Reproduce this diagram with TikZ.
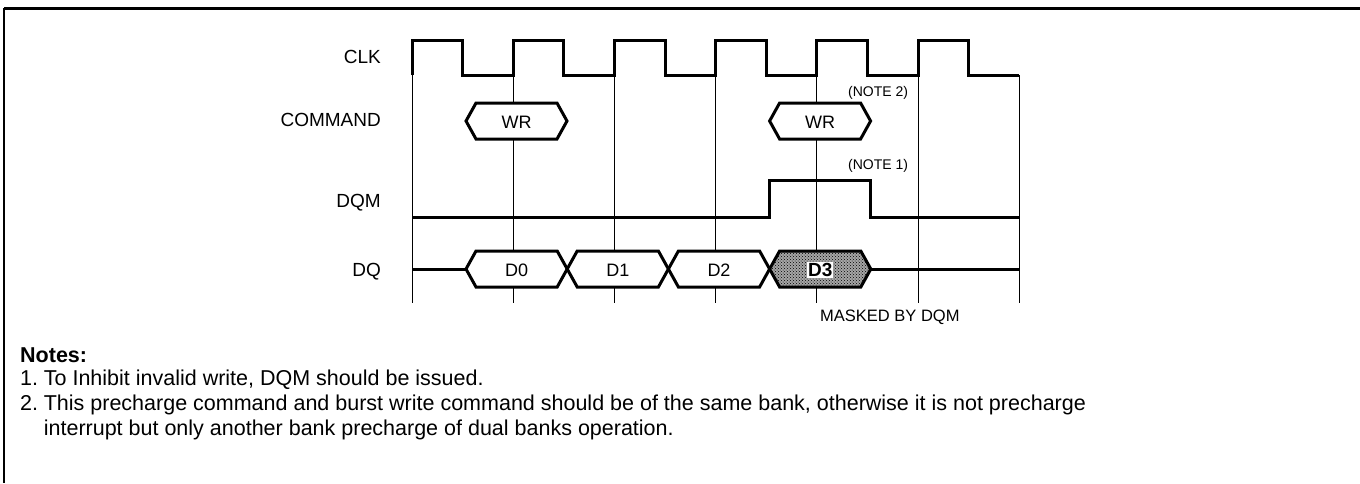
\documentclass[tikz,border=0pt]{standalone}
\usepackage{fontspec}
\setmainfont{Liberation Sans}
\usetikzlibrary{patterns}

\begin{document}
\begin{tikzpicture}[x=1pt,y=-1pt,
  sig/.style={line width=3pt,line join=miter},
  grid/.style={line width=1pt},
  lab/.style={anchor=east,inner sep=0pt,font=\fontsize{19}{22}\selectfont},
  bus/.style={inner sep=0pt,font=\fontsize{18}{21}\selectfont},
  note/.style={anchor=west,inner sep=0pt,font=\fontsize{14}{16}\selectfont},
  txt/.style={anchor=west,inner sep=0pt,font=\fontsize{21.5}{24}\selectfont}]
\useasboundingbox (0,0) rectangle (1360,483);
% frame
\draw[line width=3pt] (4,8) -- (1360,8);
\draw[line width=2pt] (4,8) -- (4,483);
% signal names
\node[lab] (clk) at (381,57) {CLK};
\node[lab] (cmd) at (381,120) {COMMAND};
\node[lab] (dqm) at (381,203) {DQM};
\node[lab] (dq) at (381,272) {DQ};
% clock edges
\foreach \k in {0,...,6}
  \draw[grid] ({412+101.2*\k},75) -- ({412+101.2*\k},303);
\draw[sig] (412,75) \foreach \k in {0,...,5} {
  -- ({412+101.2*\k},40) -- ({462.6+101.2*\k},40)
  -- ({462.6+101.2*\k},75) -- ({513.2+101.2*\k},75)};
% command
\foreach \x in {466,769.6}
  \draw[sig,fill=white] (\x,121) -- ++(10,-18) -- ++(81,0) -- ++(10,18)
    -- ++(-10,18) -- ++(-81,0) -- cycle;
\node[bus] (wr1) at (516.5,122) {WR};
\node[bus] (wr2) at (820.1,122) {WR};
\node[note] (n2) at (848,93) {(NOTE 2)};
% dqm
\draw[sig] (412,217) -- (769.6,217) -- (769.6,180) -- (870.8,180) -- (870.8,217) -- (1019.2,217);
\node[note] (n1) at (848,166) {(NOTE 1)};
% dq
\draw[sig] (412,269) -- (466,269);
\draw[sig] (870.8,269) -- (1019.2,269);
\foreach \x/\d in {466/D0,567.2/D1,668.4/D2} {
  \draw[sig,fill=white] (\x,269) -- ++(10,-18) -- ++(81.2,0) -- ++(10,18)
    -- ++(-10,18) -- ++(-81.2,0) -- cycle;
  \node[bus] at ({\x+50.6},270) {\d};
}
\draw[sig,fill=black!35,postaction={pattern=crosshatch dots}] (769.6,269) -- ++(10,-18)
  -- ++(81.2,0) -- ++(10,18) -- ++(-10,18) -- ++(-81.2,0) -- cycle;
\node[bus,fill=white,inner sep=1pt] (d3) at (820.2,270) {\fontsize{19}{21}\selectfont\bfseries D3};
\node[anchor=west,inner sep=0pt] (mask) at (820,317) {\fontsize{16.5}{18}\selectfont MASKED BY DQM};
% notes
\node[txt] (nh) at (20,355) {\bfseries Notes:};
\node[txt] (l1) at (20,380) {\makebox[1.1em][l]{1.}To Inhibit invalid write, DQM should be issued.};
\node[txt] (l2) at (20,405) {\makebox[1.1em][l]{2.}This precharge command and burst write command should be of the same bank, otherwise it is not precharge};
\node[txt] (l3) at (20,430) {\hspace*{1.1em}interrupt but only another bank precharge of dual banks operation.};
\end{tikzpicture}
\end{document}
